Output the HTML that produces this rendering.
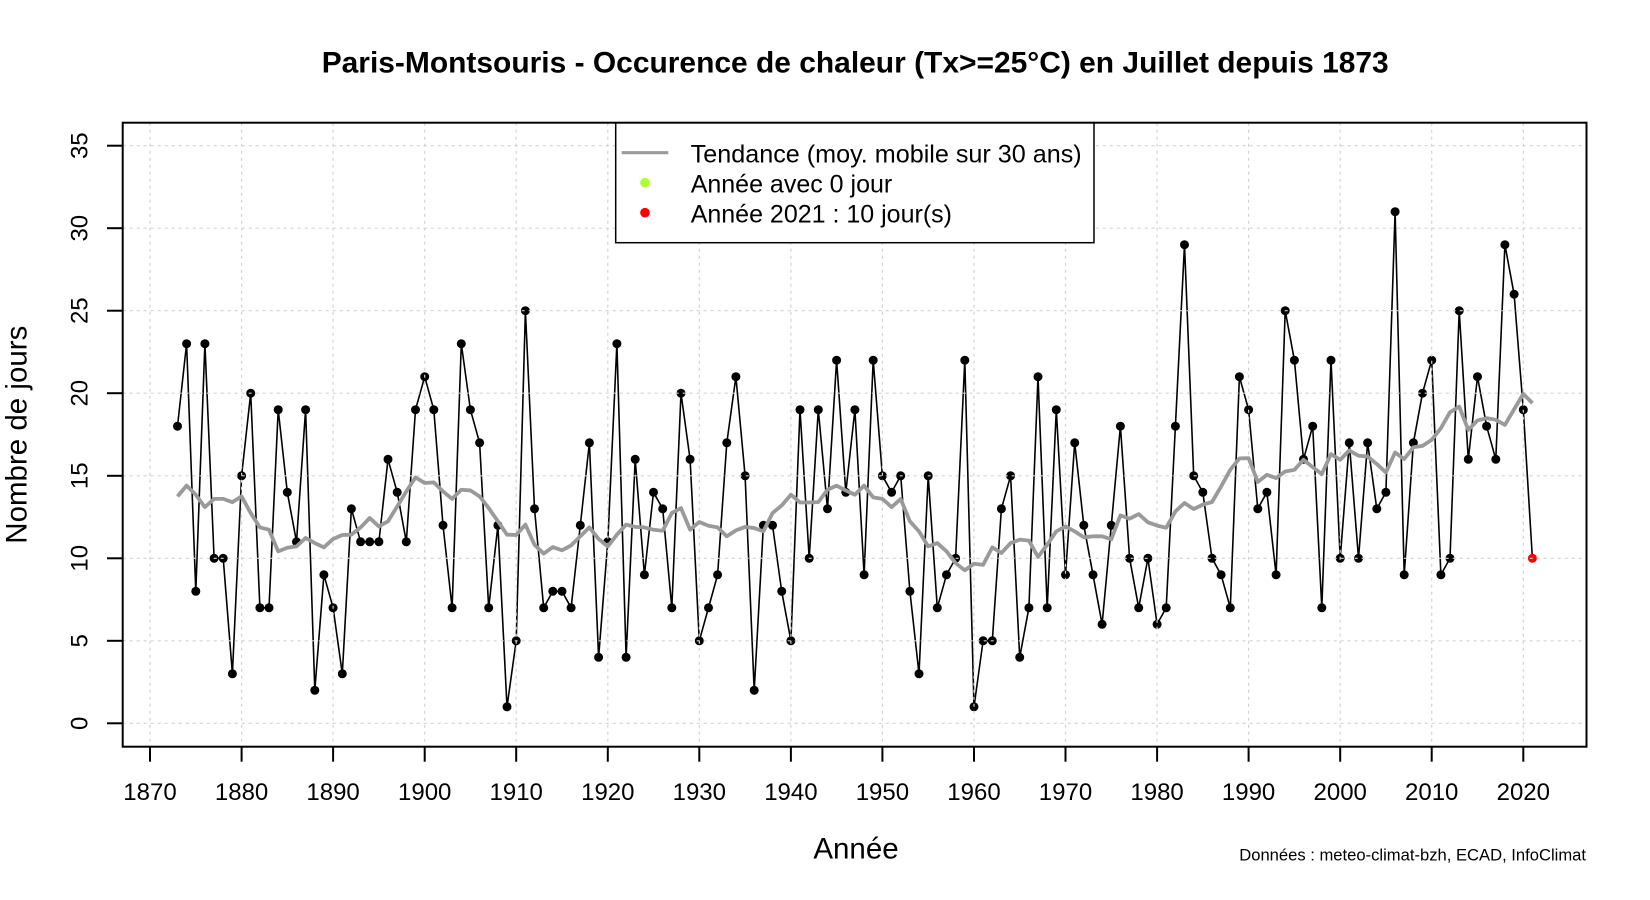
<!DOCTYPE html>
<html><head><meta charset="utf-8"><style>
html,body{margin:0;padding:0;background:#fff;}
svg{display:block;}
text{font-family:"Liberation Sans",Arial,sans-serif;fill:#000;}
</style></head><body>
<svg width="1650" height="900" viewBox="0 0 1650 900" xmlns="http://www.w3.org/2000/svg">
<rect x="0" y="0" width="1650" height="900" fill="#fff"/>
<text x="321.7" y="72.3" font-size="30" font-weight="bold" textLength="1067" lengthAdjust="spacingAndGlyphs">Paris-Montsouris - Occurence de chaleur (Tx&gt;=25°C) en Juillet depuis 1873</text>

<polyline fill="none" stroke="#000" stroke-width="1.6" stroke-linejoin="round" points="177.5,426.2 186.6,343.7 195.8,591.3 204.9,343.7 214.1,558.3 223.2,558.3 232.4,673.8 241.6,475.8 250.7,393.2 259.9,607.8 269.0,607.8 278.2,409.7 287.3,492.3 296.5,541.8 305.6,409.7 314.8,690.3 323.9,574.8 333.1,607.8 342.3,673.8 351.4,508.8 360.6,541.8 369.7,541.8 378.9,541.8 388.0,459.3 397.2,492.3 406.3,541.8 415.5,409.7 424.7,376.7 433.8,409.7 443.0,525.3 452.1,607.8 461.3,343.7 470.4,409.7 479.6,442.8 488.7,607.8 497.9,525.3 507.0,706.8 516.2,640.8 525.4,310.7 534.5,508.8 543.7,607.8 552.8,591.3 562.0,591.3 571.1,607.8 580.3,525.3 589.4,442.8 598.6,657.3 607.8,541.8 616.9,343.7 626.1,657.3 635.2,459.3 644.4,574.8 653.5,492.3 662.7,508.8 671.8,607.8 681.0,393.2 690.1,459.3 699.3,640.8 708.5,607.8 717.6,574.8 726.8,442.8 735.9,376.7 745.1,475.8 754.2,690.3 763.4,525.3 772.5,525.3 781.7,591.3 790.9,640.8 800.0,409.7 809.2,558.3 818.3,409.7 827.5,508.8 836.6,360.2 845.8,492.3 854.9,409.7 864.1,574.8 873.2,360.2 882.4,475.8 891.6,492.3 900.7,475.8 909.9,591.3 919.0,673.8 928.2,475.8 937.3,607.8 946.5,574.8 955.6,558.3 964.8,360.2 974.0,706.8 983.1,640.8 992.3,640.8 1001.4,508.8 1010.6,475.8 1019.7,657.3 1028.9,607.8 1038.0,376.7 1047.2,607.8 1056.3,409.7 1065.5,574.8 1074.7,442.8 1083.8,525.3 1093.0,574.8 1102.1,624.3 1111.3,525.3 1120.4,426.2 1129.6,558.3 1138.7,607.8 1147.9,558.3 1157.1,624.3 1166.2,607.8 1175.4,426.2 1184.5,244.7 1193.7,475.8 1202.8,492.3 1212.0,558.3 1221.1,574.8 1230.3,607.8 1239.4,376.7 1248.6,409.7 1257.8,508.8 1266.9,492.3 1276.1,574.8 1285.2,310.7 1294.4,360.2 1303.5,459.3 1312.7,426.2 1321.8,607.8 1331.0,360.2 1340.2,558.3 1349.3,442.8 1358.5,558.3 1367.6,442.8 1376.8,508.8 1385.9,492.3 1395.1,211.7 1404.2,574.8 1413.4,442.8 1422.5,393.2 1431.7,360.2 1440.9,574.8 1450.0,558.3 1459.2,310.7 1468.3,459.3 1477.5,376.7 1486.6,426.2 1495.8,459.3 1504.9,244.7 1514.1,294.2 1523.3,409.7 1532.4,558.3"/>

<g fill="#000">
<circle cx="177.5" cy="426.2" r="4.5"/><circle cx="186.6" cy="343.7" r="4.5"/><circle cx="195.8" cy="591.3" r="4.5"/><circle cx="204.9" cy="343.7" r="4.5"/><circle cx="214.1" cy="558.3" r="4.5"/><circle cx="223.2" cy="558.3" r="4.5"/><circle cx="232.4" cy="673.8" r="4.5"/><circle cx="241.6" cy="475.8" r="4.5"/><circle cx="250.7" cy="393.2" r="4.5"/><circle cx="259.9" cy="607.8" r="4.5"/><circle cx="269.0" cy="607.8" r="4.5"/><circle cx="278.2" cy="409.7" r="4.5"/><circle cx="287.3" cy="492.3" r="4.5"/><circle cx="296.5" cy="541.8" r="4.5"/><circle cx="305.6" cy="409.7" r="4.5"/><circle cx="314.8" cy="690.3" r="4.5"/><circle cx="323.9" cy="574.8" r="4.5"/><circle cx="333.1" cy="607.8" r="4.5"/><circle cx="342.3" cy="673.8" r="4.5"/><circle cx="351.4" cy="508.8" r="4.5"/><circle cx="360.6" cy="541.8" r="4.5"/><circle cx="369.7" cy="541.8" r="4.5"/><circle cx="378.9" cy="541.8" r="4.5"/><circle cx="388.0" cy="459.3" r="4.5"/><circle cx="397.2" cy="492.3" r="4.5"/><circle cx="406.3" cy="541.8" r="4.5"/><circle cx="415.5" cy="409.7" r="4.5"/><circle cx="424.7" cy="376.7" r="4.5"/><circle cx="433.8" cy="409.7" r="4.5"/><circle cx="443.0" cy="525.3" r="4.5"/><circle cx="452.1" cy="607.8" r="4.5"/><circle cx="461.3" cy="343.7" r="4.5"/><circle cx="470.4" cy="409.7" r="4.5"/><circle cx="479.6" cy="442.8" r="4.5"/><circle cx="488.7" cy="607.8" r="4.5"/><circle cx="497.9" cy="525.3" r="4.5"/><circle cx="507.0" cy="706.8" r="4.5"/><circle cx="516.2" cy="640.8" r="4.5"/><circle cx="525.4" cy="310.7" r="4.5"/><circle cx="534.5" cy="508.8" r="4.5"/><circle cx="543.7" cy="607.8" r="4.5"/><circle cx="552.8" cy="591.3" r="4.5"/><circle cx="562.0" cy="591.3" r="4.5"/><circle cx="571.1" cy="607.8" r="4.5"/><circle cx="580.3" cy="525.3" r="4.5"/><circle cx="589.4" cy="442.8" r="4.5"/><circle cx="598.6" cy="657.3" r="4.5"/><circle cx="607.8" cy="541.8" r="4.5"/><circle cx="616.9" cy="343.7" r="4.5"/><circle cx="626.1" cy="657.3" r="4.5"/><circle cx="635.2" cy="459.3" r="4.5"/><circle cx="644.4" cy="574.8" r="4.5"/><circle cx="653.5" cy="492.3" r="4.5"/><circle cx="662.7" cy="508.8" r="4.5"/><circle cx="671.8" cy="607.8" r="4.5"/><circle cx="681.0" cy="393.2" r="4.5"/><circle cx="690.1" cy="459.3" r="4.5"/><circle cx="699.3" cy="640.8" r="4.5"/><circle cx="708.5" cy="607.8" r="4.5"/><circle cx="717.6" cy="574.8" r="4.5"/><circle cx="726.8" cy="442.8" r="4.5"/><circle cx="735.9" cy="376.7" r="4.5"/><circle cx="745.1" cy="475.8" r="4.5"/><circle cx="754.2" cy="690.3" r="4.5"/><circle cx="763.4" cy="525.3" r="4.5"/><circle cx="772.5" cy="525.3" r="4.5"/><circle cx="781.7" cy="591.3" r="4.5"/><circle cx="790.9" cy="640.8" r="4.5"/><circle cx="800.0" cy="409.7" r="4.5"/><circle cx="809.2" cy="558.3" r="4.5"/><circle cx="818.3" cy="409.7" r="4.5"/><circle cx="827.5" cy="508.8" r="4.5"/><circle cx="836.6" cy="360.2" r="4.5"/><circle cx="845.8" cy="492.3" r="4.5"/><circle cx="854.9" cy="409.7" r="4.5"/><circle cx="864.1" cy="574.8" r="4.5"/><circle cx="873.2" cy="360.2" r="4.5"/><circle cx="882.4" cy="475.8" r="4.5"/><circle cx="891.6" cy="492.3" r="4.5"/><circle cx="900.7" cy="475.8" r="4.5"/><circle cx="909.9" cy="591.3" r="4.5"/><circle cx="919.0" cy="673.8" r="4.5"/><circle cx="928.2" cy="475.8" r="4.5"/><circle cx="937.3" cy="607.8" r="4.5"/><circle cx="946.5" cy="574.8" r="4.5"/><circle cx="955.6" cy="558.3" r="4.5"/><circle cx="964.8" cy="360.2" r="4.5"/><circle cx="974.0" cy="706.8" r="4.5"/><circle cx="983.1" cy="640.8" r="4.5"/><circle cx="992.3" cy="640.8" r="4.5"/><circle cx="1001.4" cy="508.8" r="4.5"/><circle cx="1010.6" cy="475.8" r="4.5"/><circle cx="1019.7" cy="657.3" r="4.5"/><circle cx="1028.9" cy="607.8" r="4.5"/><circle cx="1038.0" cy="376.7" r="4.5"/><circle cx="1047.2" cy="607.8" r="4.5"/><circle cx="1056.3" cy="409.7" r="4.5"/><circle cx="1065.5" cy="574.8" r="4.5"/><circle cx="1074.7" cy="442.8" r="4.5"/><circle cx="1083.8" cy="525.3" r="4.5"/><circle cx="1093.0" cy="574.8" r="4.5"/><circle cx="1102.1" cy="624.3" r="4.5"/><circle cx="1111.3" cy="525.3" r="4.5"/><circle cx="1120.4" cy="426.2" r="4.5"/><circle cx="1129.6" cy="558.3" r="4.5"/><circle cx="1138.7" cy="607.8" r="4.5"/><circle cx="1147.9" cy="558.3" r="4.5"/><circle cx="1157.1" cy="624.3" r="4.5"/><circle cx="1166.2" cy="607.8" r="4.5"/><circle cx="1175.4" cy="426.2" r="4.5"/><circle cx="1184.5" cy="244.7" r="4.5"/><circle cx="1193.7" cy="475.8" r="4.5"/><circle cx="1202.8" cy="492.3" r="4.5"/><circle cx="1212.0" cy="558.3" r="4.5"/><circle cx="1221.1" cy="574.8" r="4.5"/><circle cx="1230.3" cy="607.8" r="4.5"/><circle cx="1239.4" cy="376.7" r="4.5"/><circle cx="1248.6" cy="409.7" r="4.5"/><circle cx="1257.8" cy="508.8" r="4.5"/><circle cx="1266.9" cy="492.3" r="4.5"/><circle cx="1276.1" cy="574.8" r="4.5"/><circle cx="1285.2" cy="310.7" r="4.5"/><circle cx="1294.4" cy="360.2" r="4.5"/><circle cx="1303.5" cy="459.3" r="4.5"/><circle cx="1312.7" cy="426.2" r="4.5"/><circle cx="1321.8" cy="607.8" r="4.5"/><circle cx="1331.0" cy="360.2" r="4.5"/><circle cx="1340.2" cy="558.3" r="4.5"/><circle cx="1349.3" cy="442.8" r="4.5"/><circle cx="1358.5" cy="558.3" r="4.5"/><circle cx="1367.6" cy="442.8" r="4.5"/><circle cx="1376.8" cy="508.8" r="4.5"/><circle cx="1385.9" cy="492.3" r="4.5"/><circle cx="1395.1" cy="211.7" r="4.5"/><circle cx="1404.2" cy="574.8" r="4.5"/><circle cx="1413.4" cy="442.8" r="4.5"/><circle cx="1422.5" cy="393.2" r="4.5"/><circle cx="1431.7" cy="360.2" r="4.5"/><circle cx="1440.9" cy="574.8" r="4.5"/><circle cx="1450.0" cy="558.3" r="4.5"/><circle cx="1459.2" cy="310.7" r="4.5"/><circle cx="1468.3" cy="459.3" r="4.5"/><circle cx="1477.5" cy="376.7" r="4.5"/><circle cx="1486.6" cy="426.2" r="4.5"/><circle cx="1495.8" cy="459.3" r="4.5"/><circle cx="1504.9" cy="244.7" r="4.5"/><circle cx="1514.1" cy="294.2" r="4.5"/><circle cx="1523.3" cy="409.7" r="4.5"/>
</g>
<circle cx="1532.4" cy="558.3" r="4.5" fill="#ff0000"/>

<g stroke="#d3d3d3" stroke-width="1.2" stroke-dasharray="3,4" fill="none">
<line x1="150" y1="122.7" x2="150" y2="746.7"/>
<line x1="241.6" y1="122.7" x2="241.6" y2="746.7"/>
<line x1="333.1" y1="122.7" x2="333.1" y2="746.7"/>
<line x1="424.7" y1="122.7" x2="424.7" y2="746.7"/>
<line x1="516.2" y1="122.7" x2="516.2" y2="746.7"/>
<line x1="607.8" y1="122.7" x2="607.8" y2="746.7"/>
<line x1="699.3" y1="122.7" x2="699.3" y2="746.7"/>
<line x1="790.9" y1="122.7" x2="790.9" y2="746.7"/>
<line x1="882.4" y1="122.7" x2="882.4" y2="746.7"/>
<line x1="974.0" y1="122.7" x2="974.0" y2="746.7"/>
<line x1="1065.5" y1="122.7" x2="1065.5" y2="746.7"/>
<line x1="1157.1" y1="122.7" x2="1157.1" y2="746.7"/>
<line x1="1248.6" y1="122.7" x2="1248.6" y2="746.7"/>
<line x1="1340.2" y1="122.7" x2="1340.2" y2="746.7"/>
<line x1="1431.7" y1="122.7" x2="1431.7" y2="746.7"/>
<line x1="1523.3" y1="122.7" x2="1523.3" y2="746.7"/>
<line x1="122.7" y1="723.3" x2="1586.5" y2="723.3"/>
<line x1="122.7" y1="640.8" x2="1586.5" y2="640.8"/>
<line x1="122.7" y1="558.3" x2="1586.5" y2="558.3"/>
<line x1="122.7" y1="475.8" x2="1586.5" y2="475.8"/>
<line x1="122.7" y1="393.2" x2="1586.5" y2="393.2"/>
<line x1="122.7" y1="310.7" x2="1586.5" y2="310.7"/>
<line x1="122.7" y1="228.2" x2="1586.5" y2="228.2"/>
<line x1="122.7" y1="145.7" x2="1586.5" y2="145.7"/>
</g>

<polyline fill="none" stroke="#9a9a9a" stroke-width="3.8" stroke-linejoin="round" vector-effect="non-scaling-stroke" transform="matrix(1 0 0 -16.503 0 723.3)" points="177.5,13.75 186.6,14.4 195.8,13.85 204.9,13.1 214.1,13.6 223.2,13.6 232.4,13.4 241.6,13.75 250.7,12.74 259.9,11.87 269.0,11.73 278.2,10.42 287.3,10.64 296.5,10.72 305.6,11.23 314.8,10.92 323.9,10.66 333.1,11.17 342.3,11.41 351.4,11.43 360.6,11.87 369.7,12.44 378.9,11.93 388.0,12.24 397.2,13.14 406.3,14.05 415.5,14.9 424.7,14.56 433.8,14.6 443.0,14.05 452.1,13.6 461.3,14.15 470.4,14.11 479.6,13.75 488.7,13.04 497.9,12.24 507.0,11.43 516.2,11.41 525.4,12.04 534.5,10.82 543.7,10.28 552.8,10.68 562.0,10.48 571.1,10.78 580.3,11.33 589.4,11.87 598.6,11.17 607.8,10.72 616.9,11.43 626.1,12.04 635.2,11.9 644.4,11.87 653.5,11.73 662.7,11.67 671.8,12.74 681.0,13.04 690.1,11.73 699.3,12.2 708.5,11.97 717.6,11.87 726.8,11.33 735.9,11.69 745.1,11.9 754.2,11.83 763.4,11.63 772.5,12.74 781.7,13.2 790.9,13.85 800.0,13.38 809.2,13.38 818.3,13.4 827.5,14.15 836.6,14.4 845.8,14.11 854.9,13.85 864.1,14.4 873.2,13.69 882.4,13.6 891.6,13.1 900.7,13.59 909.9,12.24 919.0,11.63 928.2,10.72 937.3,10.92 946.5,10.42 955.6,9.71 964.8,9.27 974.0,9.67 983.1,9.6 992.3,10.66 1001.4,10.32 1010.6,10.92 1019.7,11.13 1028.9,11.07 1038.0,10.08 1047.2,10.82 1056.3,11.63 1065.5,11.93 1074.7,11.63 1083.8,11.27 1093.0,11.33 1102.1,11.33 1111.3,11.15 1120.4,12.6 1129.6,12.4 1138.7,12.68 1147.9,12.18 1157.1,11.98 1166.2,11.85 1175.4,12.84 1184.5,13.35 1193.7,12.98 1202.8,13.25 1212.0,13.41 1221.1,14.35 1230.3,15.36 1239.4,16.05 1248.6,16.07 1257.8,14.62 1266.9,15.06 1276.1,14.86 1285.2,15.26 1294.4,15.36 1303.5,15.97 1312.7,15.52 1321.8,15.1 1331.0,16.31 1340.2,15.97 1349.3,16.53 1358.5,16.21 1367.6,16.17 1376.8,15.71 1385.9,15.2 1395.1,16.41 1404.2,16.01 1413.4,16.73 1422.5,16.81 1431.7,17.18 1440.9,17.88 1450.0,18.85 1459.2,19.19 1468.3,17.78 1477.5,18.35 1486.6,18.49 1495.8,18.39 1504.9,18.08 1514.1,19.03 1523.3,19.96 1532.4,19.4"/>

<!-- legend -->
<rect x="615.7" y="122.7" width="478.3" height="120" fill="#fff" stroke="#000" stroke-width="1.5"/>
<line x1="621.7" y1="152.7" x2="668.3" y2="152.7" stroke="#9a9a9a" stroke-width="3.2"/>
<circle cx="645" cy="182.7" r="4.8" fill="#adff2f"/>
<circle cx="645" cy="212.7" r="4.8" fill="#ff0000"/>
<text x="690.7" y="162.5" font-size="25" textLength="391" lengthAdjust="spacingAndGlyphs">Tendance (moy. mobile sur 30 ans)</text>
<text x="690.7" y="192.5" font-size="25">Année avec 0 jour</text>
<text x="690.7" y="222.5" font-size="25">Année 2021 : 10 jour(s)</text>

<!-- box -->
<rect x="122.7" y="122.7" width="1463.8" height="624" fill="none" stroke="#000" stroke-width="2"/>

<!-- axis ticks -->
<g stroke="#000" stroke-width="2">
<line x1="150" y1="746.7" x2="150" y2="761.7"/>
<line x1="241.6" y1="746.7" x2="241.6" y2="761.7"/>
<line x1="333.1" y1="746.7" x2="333.1" y2="761.7"/>
<line x1="424.7" y1="746.7" x2="424.7" y2="761.7"/>
<line x1="516.2" y1="746.7" x2="516.2" y2="761.7"/>
<line x1="607.8" y1="746.7" x2="607.8" y2="761.7"/>
<line x1="699.3" y1="746.7" x2="699.3" y2="761.7"/>
<line x1="790.9" y1="746.7" x2="790.9" y2="761.7"/>
<line x1="882.4" y1="746.7" x2="882.4" y2="761.7"/>
<line x1="974.0" y1="746.7" x2="974.0" y2="761.7"/>
<line x1="1065.5" y1="746.7" x2="1065.5" y2="761.7"/>
<line x1="1157.1" y1="746.7" x2="1157.1" y2="761.7"/>
<line x1="1248.6" y1="746.7" x2="1248.6" y2="761.7"/>
<line x1="1340.2" y1="746.7" x2="1340.2" y2="761.7"/>
<line x1="1431.7" y1="746.7" x2="1431.7" y2="761.7"/>
<line x1="1523.3" y1="746.7" x2="1523.3" y2="761.7"/>
<line x1="107" y1="723.3" x2="122.7" y2="723.3"/>
<line x1="107" y1="640.8" x2="122.7" y2="640.8"/>
<line x1="107" y1="558.3" x2="122.7" y2="558.3"/>
<line x1="107" y1="475.8" x2="122.7" y2="475.8"/>
<line x1="107" y1="393.2" x2="122.7" y2="393.2"/>
<line x1="107" y1="310.7" x2="122.7" y2="310.7"/>
<line x1="107" y1="228.2" x2="122.7" y2="228.2"/>
<line x1="107" y1="145.7" x2="122.7" y2="145.7"/>
</g>

<g font-size="24" text-anchor="middle">
<text x="150" y="800">1870</text>
<text x="241.6" y="800">1880</text>
<text x="333.1" y="800">1890</text>
<text x="424.7" y="800">1900</text>
<text x="516.2" y="800">1910</text>
<text x="607.8" y="800">1920</text>
<text x="699.3" y="800">1930</text>
<text x="790.9" y="800">1940</text>
<text x="882.4" y="800">1950</text>
<text x="974.0" y="800">1960</text>
<text x="1065.5" y="800">1970</text>
<text x="1157.1" y="800">1980</text>
<text x="1248.6" y="800">1990</text>
<text x="1340.2" y="800">2000</text>
<text x="1431.7" y="800">2010</text>
<text x="1523.3" y="800">2020</text>
<text transform="translate(87.5,723.3) rotate(-90)">0</text>
<text transform="translate(87.5,640.8) rotate(-90)">5</text>
<text transform="translate(87.5,558.3) rotate(-90)">10</text>
<text transform="translate(87.5,475.8) rotate(-90)">15</text>
<text transform="translate(87.5,393.2) rotate(-90)">20</text>
<text transform="translate(87.5,310.7) rotate(-90)">25</text>
<text transform="translate(87.5,228.2) rotate(-90)">30</text>
<text transform="translate(87.5,145.7) rotate(-90)">35</text>
</g>

<text x="856" y="858.5" font-size="29.5" text-anchor="middle">Année</text>
<text transform="translate(26.5,434.7) rotate(-90)" font-size="29.5" text-anchor="middle">Nombre de jours</text>
<text x="1586" y="860.7" font-size="16.6" text-anchor="end">Données : meteo-climat-bzh, ECAD, InfoClimat</text>
</svg>
</body></html>
